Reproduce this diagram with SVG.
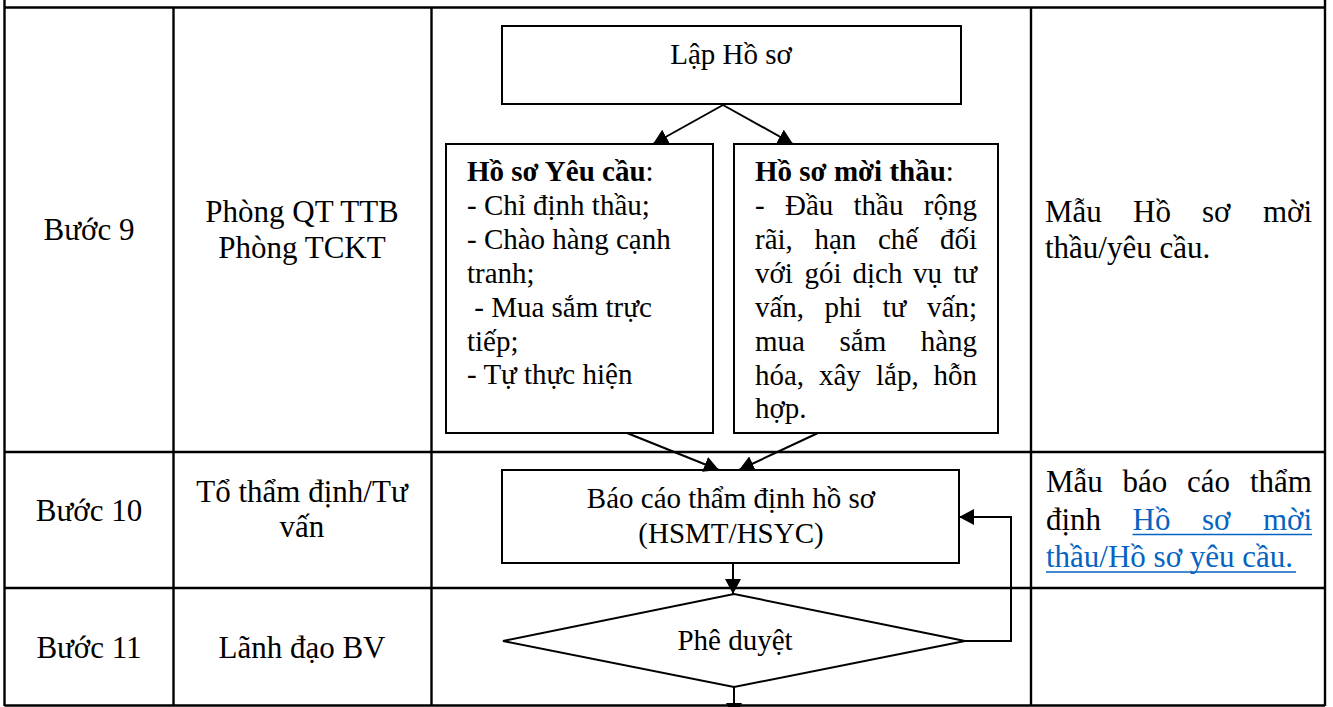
<svg xmlns="http://www.w3.org/2000/svg" width="1333" height="707" viewBox="0 0 1333 707">
<defs>
<style>
.t{font-family:"Liberation Serif","Times New Roman",serif;font-size:31px;fill:#000}
.b{font-family:"Liberation Serif","Times New Roman",serif;font-size:29px;fill:#000}
.c{text-anchor:middle}
.e{text-anchor:end}
.bold{font-weight:bold}
.link{fill:#0563C1}
.grid{stroke:#000;stroke-width:2.4;fill:none}
.box{stroke:#000;stroke-width:2;fill:#fff}
.conn{stroke:#000;stroke-width:2;fill:none}
.ul{stroke:#0563C1;stroke-width:1.6}
</style>
<marker id="ah" markerUnits="userSpaceOnUse" markerWidth="15" markerHeight="16" refX="15" refY="8" orient="auto">
<path d="M0,0 L15,8 L0,16 z" fill="#000"/>
</marker>
</defs>
<rect width="1333" height="707" fill="#fff"/>
<g id="table">
<line class="grid" x1="4.5" y1="0" x2="4.5" y2="706"/>
<line class="grid" x1="1325" y1="0" x2="1325" y2="706"/>
<line class="grid" x1="173.5" y1="7.5" x2="173.5" y2="706"/>
<line class="grid" x1="431.5" y1="7.5" x2="431.5" y2="706"/>
<line class="grid" x1="1031" y1="7.5" x2="1031" y2="706"/>
<line class="grid" x1="4.5" y1="7.5" x2="1325" y2="7.5"/>
<line class="grid" x1="4.5" y1="452" x2="1325" y2="452"/>
<line class="grid" x1="4.5" y1="588" x2="1325" y2="588"/>
<line class="grid" x1="4.5" y1="705.5" x2="1325" y2="705.5"/>
</g>
<g id="row9-labels">
<text class="t c" x="89" y="240">Bước 9</text>
<text class="t c" x="302" y="222">Phòng QT TTB</text>
<text class="t c" x="302" y="258">Phòng TCKT</text>
<text class="t" y="222"><tspan x="1045">Mẫu</tspan><tspan x="1133">Hồ</tspan><tspan x="1202">sơ</tspan></text>
<text class="t e" x="1312" y="222">mời</text>
<text class="t" x="1045" y="258">thầu/yêu cầu.</text>
</g>
<g id="row10-labels">
<text class="t c" x="89" y="521">Bước 10</text>
<text class="t c" x="302" y="502">Tổ thẩm định/Tư</text>
<text class="t c" x="302" y="537">vấn</text>
<text class="t" y="492"><tspan x="1046">Mẫu</tspan><tspan x="1122.5">báo</tspan><tspan x="1187">cáo</tspan></text>
<text class="t e" x="1312" y="492">thẩm</text>
<text class="t" x="1046" y="530">định</text>
<text class="t link" y="530"><tspan x="1132.5">Hồ</tspan><tspan x="1202">sơ</tspan></text>
<text class="t link e" x="1312" y="530">mời</text>
<text class="t link" x="1046" y="567">thầu/Hồ sơ yêu cầu.</text>
<line class="ul" x1="1132.5" y1="534.5" x2="1312" y2="534.5"/>
<line class="ul" x1="1046" y1="572" x2="1296" y2="572"/>
</g>
<g id="row11-labels">
<text class="t c" x="89" y="658">Bước 11</text>
<text class="t c" x="302" y="658">Lãnh đạo BV</text>
</g>
<g id="n-lap-ho-so">
<rect class="box" x="502" y="26" width="459" height="78"/>
<text class="b c" x="731" y="64">Lập Hồ sơ</text>
</g>
<g id="n-ho-so-yeu-cau">
<rect class="box" x="446" y="144" width="267" height="289"/>
<text class="b" x="467" y="181"><tspan class="bold">Hồ sơ Yêu cầu</tspan>:</text>
<text class="b" x="467" y="215">- Chỉ định thầu;</text>
<text class="b" x="467" y="249">- Chào hàng cạnh</text>
<text class="b" x="467" y="283">tranh;</text>
<text class="b" x="467" y="317" xml:space="preserve"> - Mua sắm trực</text>
<text class="b" x="467" y="351">tiếp;</text>
<text class="b" x="467" y="384">- Tự thực hiện</text>
</g>
<g id="n-ho-so-moi-thau">
<rect class="box" x="734" y="144" width="264" height="289"/>
<text class="b" x="755" y="181"><tspan class="bold">Hồ sơ mời thầu</tspan>:</text>
<text class="b" y="215"><tspan x="755">-</tspan><tspan x="785">Đầu</tspan><tspan x="853.5">thầu</tspan></text>
<text class="b e" x="977" y="215">rộng</text>
<text class="b" y="249"><tspan x="755">rãi,</tspan><tspan x="814.5">hạn</tspan><tspan x="878">chế</tspan></text>
<text class="b e" x="977" y="249">đối</text>
<text class="b" y="283"><tspan x="755">với</tspan><tspan x="804.5">gói</tspan><tspan x="852.5">dịch</tspan><tspan x="913">vụ</tspan></text>
<text class="b e" x="977" y="283">tư</text>
<text class="b" y="317"><tspan x="755">vấn,</tspan><tspan x="824.5">phi</tspan><tspan x="882.5">tư</tspan></text>
<text class="b e" x="977" y="317">vấn;</text>
<text class="b" y="351"><tspan x="755">mua</tspan><tspan x="839.5">sắm</tspan></text>
<text class="b e" x="977" y="351">hàng</text>
<text class="b" y="385"><tspan x="755">hóa,</tspan><tspan x="819">xây</tspan><tspan x="876">lắp,</tspan></text>
<text class="b e" x="977" y="385">hỗn</text>
<text class="b" x="755" y="418">hợp.</text>
</g>
<g id="n-bao-cao">
<rect class="box" x="502" y="470" width="457" height="93"/>
<text class="b c" x="731" y="508">Báo cáo thẩm định hồ sơ</text>
<text class="b c" x="731" y="543">(HSMT/HSYC)</text>
</g>
<g id="n-phe-duyet">
<polygon class="box" points="734,594 965,641 734,687 503,641"/>
<text class="b c" x="735" y="650">Phê duyệt</text>
</g>
<g id="connectors">
<line class="conn" x1="723" y1="105" x2="653" y2="144" marker-end="url(#ah)"/>
<line class="conn" x1="723" y1="105" x2="793" y2="144" marker-end="url(#ah)"/>
<line class="conn" x1="627" y1="433" x2="719" y2="470" marker-end="url(#ah)"/>
<line class="conn" x1="818" y1="433" x2="739" y2="470" marker-end="url(#ah)"/>
<line class="conn" x1="733" y1="563" x2="733" y2="594" marker-end="url(#ah)"/>
<polyline class="conn" points="965,641 1011,641 1011,517 959,517" marker-end="url(#ah)"/>
<line class="conn" x1="734" y1="687" x2="734" y2="718" marker-end="url(#ah)"/>
</g>
</svg>
